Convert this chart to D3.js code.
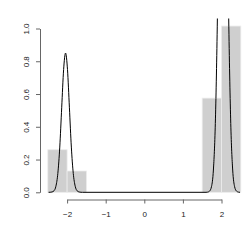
<!DOCTYPE html>
<meta charset="utf-8">
<style>
  body { margin: 0; background: #fff; }
  text { font-family: "Liberation Sans", Arial, sans-serif; }
</style>
<svg width="249" height="249"></svg>
<script src="https://d3js.org/d3.v7.min.js"></script>
<script>

// histogram bins (density scale)
var binStart = [-2.5, -2.0, 1.5, 2.0];
var binEnd   = [-2.0, -1.5, 2.0, 2.5];
var binDens  = [0.26, 0.13, 0.575, 1.015];

// density curve
var curveX = [-2.48, -2.44, -2.39, -2.34, -2.29, -2.24, -2.19, -2.14, -2.09, -2.04,
              -1.99, -1.94, -1.89, -1.84, -1.79, -1.74, -1.69, -1.64, -1.60,
              1.60, 1.64, 1.69, 1.74, 1.79, 1.84, 1.89, 1.94, 1.99, 2.04,
              2.09, 2.14, 2.19, 2.24, 2.29, 2.34, 2.39, 2.44, 2.48];
var curveY = [0, 0.0003, 0.002, 0.009, 0.037, 0.115, 0.276, 0.516, 0.75, 0.85,
              0.75, 0.516, 0.276, 0.115, 0.037, 0.009, 0.002, 0.0003, 0,
              0, 0.001, 0.007, 0.034, 0.136, 0.42, 1.01, 1.88, 2.74, 3.1,
              2.74, 1.88, 1.01, 0.42, 0.136, 0.034, 0.007, 0.001, 0];

var xTicks = [-2, -1, 0, 1, 2];
var yTicks = [0, 0.2, 0.4, 0.6, 0.8, 1.0];

var svg = d3.select("svg");

var x = d3.scaleLinear().domain([-2, 2]).range([67.1, 221.5]);
var y = d3.scaleLinear().domain([0, 1]).range([192.3, 28.5]);

svg.append("clipPath").attr("id", "plot")
  .append("rect")
    .attr("x", 40).attr("y", 18.5)
    .attr("width", 209).attr("height", 181);

var bins = binStart.map(function(d, i) {
  return { x0: d, x1: binEnd[i], v: binDens[i] };
});

svg.append("g")
  .selectAll("rect")
  .data(bins)
  .enter().append("rect")
    .attr("x", function(d) { return x(d.x0); })
    .attr("y", function(d) { return y(d.v); })
    .attr("width", function(d) { return x(d.x1) - x(d.x0); })
    .attr("height", function(d) { return y(0) - y(d.v); })
    .attr("fill", "#cfcfcf")
    .attr("stroke", "#ececec")
    .attr("stroke-width", 0.8);

var line = d3.line()
    .x(function(d, i) { return x(curveX[i]); })
    .y(function(d) { return y(d); })
    .curve(d3.curveMonotoneX);

svg.append("path")
    .datum(curveY)
    .attr("clip-path", "url(#plot)")
    .attr("fill", "none")
    .attr("stroke", "#000")
    .attr("stroke-width", 1)
    .attr("d", line);

// x axis
var xAxis = d3.axisBottom(x)
    .tickValues(xTicks)
    .tickSize(4)
    .tickSizeOuter(0)
    .tickPadding(8)
    .tickFormat(function(d) { return d < 0 ? "\u2212" + (-d) : d; });

svg.append("g")
    .attr("transform", "translate(0,199.5)")
    .call(xAxis);

// y axis
var yAxis = d3.axisLeft(y)
    .tickValues(yTicks)
    .tickSize(4)
    .tickSizeOuter(0)
    .tickFormat(d3.format(".1f"));

var gy = svg.append("g")
    .attr("transform", "translate(40,0)")
    .call(yAxis);

gy.selectAll(".tick text")
    .attr("x", 0).attr("dy", null)
    .attr("text-anchor", "middle")
    .attr("transform", "translate(-11.3,0) rotate(-90)");

svg.selectAll(".domain, .tick line").attr("stroke", "#666");
svg.selectAll(".tick text")
    .attr("fill", "#222")
    .style("font-family", "'Liberation Sans', Arial, sans-serif")
    .style("font-size", "8px");

</script>
